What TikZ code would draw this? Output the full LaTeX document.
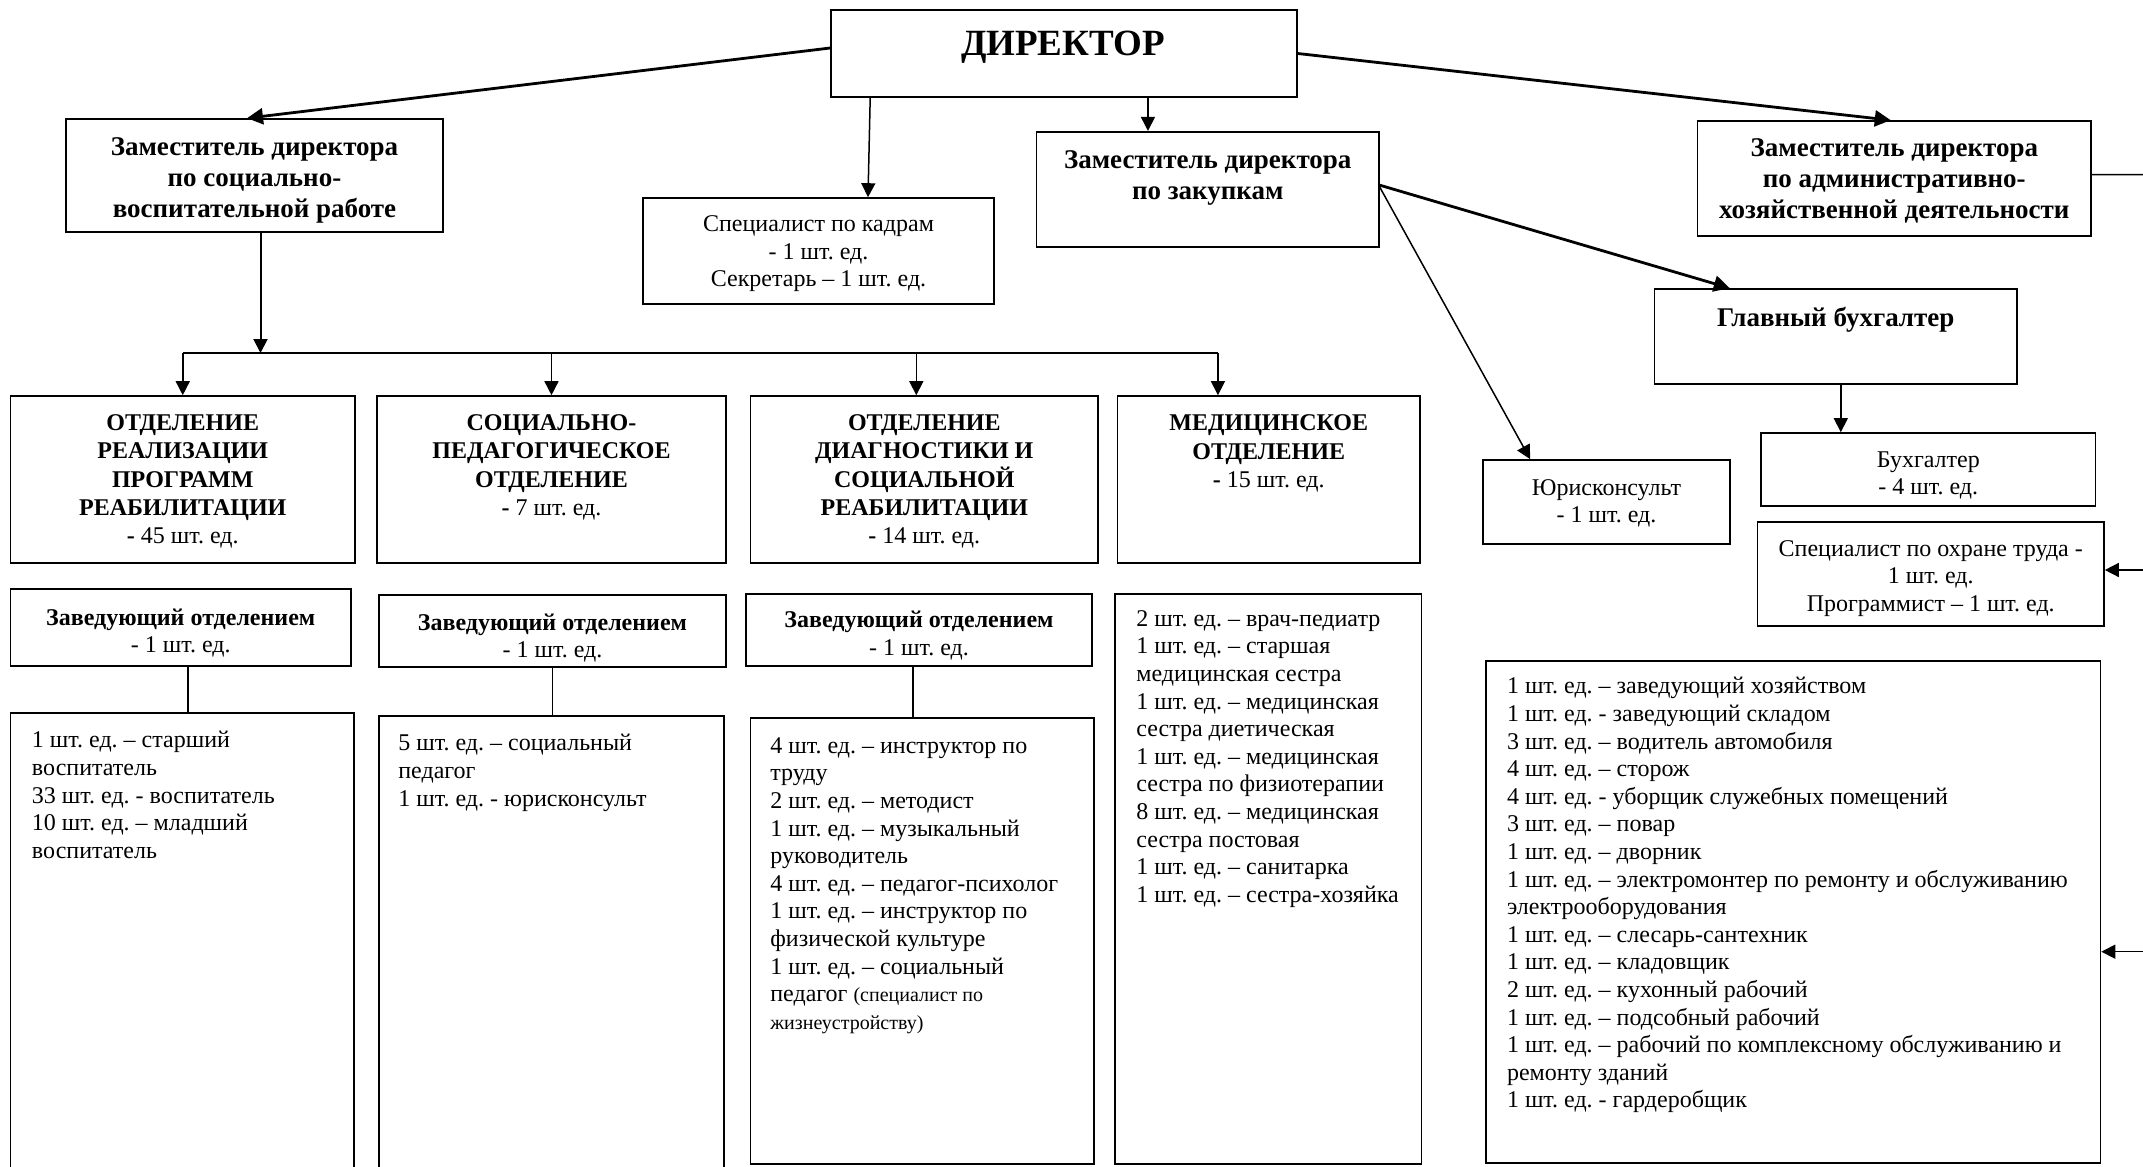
\documentclass[tikz,border=0pt]{standalone}
\usepackage{fontspec}
\setmainfont{Liberation Serif}
\usetikzlibrary{arrows.meta,calc}
\frenchspacing
\begin{document}
\begin{tikzpicture}[x=0.5pt,y=-0.5pt,
  box/.style={draw, line width=0.8pt, inner sep=0pt},
  txt/.style={inner sep=0pt, align=center, font=\fontsize{12}{13.8}\selectfont},
  htxt/.style={inner sep=0pt, align=center, font=\fontsize{13.5}{15.5}\selectfont\bfseries},
  dtxt/.style={inner sep=0pt, align=center, anchor=north, font=\fontsize{12}{14.2}\selectfont},
  ltxt/.style={inner sep=0pt, align=left, anchor=north west, font=\fontsize{12}{13.8}\selectfont},
  arr/.style={-{Triangle[length=7pt,width=7pt]}, line width=0.75pt},
  tarr/.style={-{Triangle[length=8pt,width=8pt]}, line width=1.4pt},
  conn/.style={line width=0.75pt}
]
\useasboundingbox (0,0) rectangle (2143,1167);

% top level
\node[box, minimum width=233pt, minimum height=43.5pt] (dir) at (1064,53.5) {};
\node[inner sep=0pt, anchor=base, font=\fontsize{18.5}{20}\selectfont\bfseries] (tdir) at (1063,55.5) {ДИРЕКТОР};

\node[box, minimum width=188.5pt, minimum height=56.5pt] (zsoc) at (254.5,175.5) {};
\node[htxt] (tzsoc) at ([yshift=-2.6pt]zsoc.center) {Заместитель директора\\по социально-\\воспитательной работе};

\node[box, minimum width=175.5pt, minimum height=53pt] (kadr) at (818.5,251) {};
\node[txt] (tkadr) at ([yshift=-1.5pt]kadr.center) {Специалист по кадрам\\- 1 шт. ед.\\Секретарь – 1 шт. ед.};

\node[box, minimum width=171.25pt, minimum height=57.5pt] (zakup) at (1207.75,189.2) {};
\node[htxt, anchor=north] (tzakup) at (1207.75,150) {Заместитель директора\\по закупкам};

\node[box, minimum width=196.7pt, minimum height=57.35pt] (ahd) at (1894.3,178.35) {};
\node[htxt] (tahd) at ([yshift=-1.4pt]ahd.center) {Заместитель директора\\по административно-\\хозяйственной деятельности};

\node[box, minimum width=181.2pt, minimum height=47.5pt] (glbuh) at (1835.8,336.5) {};
\node[inner sep=0pt, anchor=base, font=\fontsize{13.5}{15.5}\selectfont\bfseries] (tglbuh) at (1835.8,326) {Главный бухгалтер};

\node[box, minimum width=123.5pt, minimum height=42pt] (jurist) at (1606.5,502) {};
\node[txt] (tjurist) at ([yshift=-0.7pt]jurist.center) {Юрисконсульт\\- 1 шт. ед.};
\node[box, minimum width=167.3pt, minimum height=36.5pt] (buh) at (1928.3,469.5) {};
\node[txt] (tbuh) at ([yshift=-2.9pt]buh.center) {Бухгалтер\\- 4 шт. ед.};
\node[box, minimum width=173.25pt, minimum height=52pt] (ohrana) at (1930.75,574) {};
\node[txt] (tohrana) at ([yshift=-2.3pt]ohrana.center) {Специалист по охране труда -\\1 шт. ед.\\Программист – 1 шт. ед.};

\node[box, minimum width=307.4pt, minimum height=251pt] (bigr) at (1793.1,912) {};
\node[ltxt] (tbigr) at (1506.6,677) {1 шт. ед. – заведующий хозяйством\\
1 шт. ед. - заведующий складом\\
3 шт. ед. – водитель автомобиля\\
4 шт. ед. – сторож\\
4 шт. ед. - уборщик служебных помещений\\
3 шт. ед. – повар\\
1 шт. ед. – дворник\\
1 шт. ед. – электромонтер по ремонту и обслуживанию\\
электрооборудования\\
1 шт. ед. – слесарь-сантехник\\
1 шт. ед. – кладовщик\\
2 шт. ед. – кухонный рабочий\\
1 шт. ед. – подсобный рабочий\\
1 шт. ед. – рабочий по комплексному обслуживанию и\\
ремонту зданий\\
1 шт. ед. - гардеробщик};

% departments
\node[box, minimum width=172.25pt, minimum height=83.5pt] (dept1) at (182.75,479.5) {};
\node[dtxt] (tdept1) at (182.75,414) {\textbf{ОТДЕЛЕНИЕ}\\\textbf{РЕАЛИЗАЦИИ}\\\textbf{ПРОГРАММ}\\\textbf{РЕАБИЛИТАЦИИ}\\\textbf{-} 45 шт. ед.};
\node[box, minimum width=174.5pt, minimum height=83.5pt] (dept2) at (551.5,479.5) {};
\node[dtxt] (tdept2) at (551.5,414) {\textbf{СОЦИАЛЬНО-}\\\textbf{ПЕДАГОГИЧЕСКОЕ}\\\textbf{ОТДЕЛЕНИЕ}\\\textbf{-} 7 шт. ед.};
\node[box, minimum width=173.7pt, minimum height=83.5pt] (dept3) at (924.3,479.5) {};
\node[dtxt] (tdept3) at (924.3,414) {\textbf{ОТДЕЛЕНИЕ}\\\textbf{ДИАГНОСТИКИ И}\\\textbf{СОЦИАЛЬНОЙ}\\\textbf{РЕАБИЛИТАЦИИ}\\\textbf{-} 14 шт. ед.};
\node[box, minimum width=151.25pt, minimum height=83.5pt] (dept4) at (1268.75,479.5) {};
\node[dtxt] (tdept4) at (1268.75,414.5) {\textbf{МЕДИЦИНСКОЕ}\\\textbf{ОТДЕЛЕНИЕ}\\\textbf{-} 15 шт. ед.};

% heads of departments
\node[box, minimum width=170.25pt, minimum height=38.5pt] (zav1) at (180.75,627.5) {};
\node[txt] (tzav1) at ([yshift=-2.8pt]zav1.center) {\textbf{Заведующий отделением}\\- 1 шт. ед.};
\node[box, minimum width=173.5pt, minimum height=36pt] (zav2) at (552.5,631) {};
\node[txt] (tzav2) at ([yshift=-3.5pt]zav2.center) {\textbf{Заведующий отделением}\\- 1 шт. ед.};
\node[box, minimum width=173pt, minimum height=36pt] (zav3) at (919,630) {};
\node[txt] (tzav3) at ([yshift=-2.75pt]zav3.center) {\textbf{Заведующий отделением}\\- 1 шт. ед.};

% staff lists
\node[box, minimum width=171.75pt, minimum height=231pt] (list1) at (182.25,944) {};
\node[ltxt] (tlist1) at (31.6,731) {1 шт. ед. – старший\\воспитатель\\33 шт. ед. - воспитатель\\10 шт. ед. – младший\\воспитатель};
\node[box, minimum width=172.5pt, minimum height=229.5pt] (list2) at (551.5,945.5) {};
\node[ltxt] (tlist2) at (398,734) {5 шт. ед. – социальный\\педагог\\1 шт. ед. - юрисконсульт};
\node[box, minimum width=171.7pt, minimum height=223pt] (list3) at (922.3,941) {};
\node[ltxt] (tlist3) at (770,737) {4 шт. ед. – инструктор по\\труду\\2 шт. ед. – методист\\1 шт. ед. – музыкальный\\руководитель\\4 шт. ед. – педагог-психолог\\1 шт. ед. – инструктор по\\физической культуре\\1 шт. ед. – социальный\\педагог {\fontsize{10}{12}\selectfont (специалист по}\\{\fontsize{10}{12}\selectfont жизнеустройству)}};
\node[box, minimum width=153.25pt, minimum height=285pt] (list4) at (1268.25,879) {};
\node[ltxt] (tlist4) at (1136,610) {2 шт. ед. – врач-педиатр\\1 шт. ед. – старшая\\медицинская сестра\\1 шт. ед. – медицинская\\сестра диетическая\\1 шт. ед. – медицинская\\сестра по физиотерапии\\8 шт. ед. – медицинская\\сестра постовая\\1 шт. ед. – санитарка\\1 шт. ед. – сестра-хозяйка};

% connectors
\draw[tarr] ([yshift=2.75pt]dir.west) -- ([xshift=-3.75pt]zsoc.north);
\draw[arr] ([xshift=20pt]dir.south west) -- ([xshift=24.75pt]kadr.north);
\draw[arr] ([xshift=-29.9pt]zakup.north |- dir.south) -- ([xshift=-29.9pt]zakup.north);
\draw[tarr] (dir.east) -- ([xshift=-1.75pt]ahd.north);

\coordinate (bus) at (0,353);
\draw[arr, line width=1pt] ([xshift=3pt]zsoc.south) -- ([xshift=3pt]zsoc.south |- bus);
\draw[line width=1.1pt] (dept1.north |- bus) -- ([xshift=-25.4pt]dept4.north |- bus);
\draw[arr] (dept1.north |- bus) -- (dept1.north);
\draw[arr] (dept2.north |- bus) -- (dept2.north);
\draw[arr] ([xshift=-4pt]dept3.north |- bus) -- ([xshift=-4pt]dept3.north);
\draw[arr] ([xshift=-25.4pt]dept4.north |- bus) -- ([xshift=-25.4pt]dept4.north);

\draw[conn] ([xshift=3.6pt]zav1.south) -- ([xshift=3.6pt]zav1.south |- list1.north);
\draw[conn] (zav2.south) -- (zav2.south |- list2.north);
\draw[conn] ([xshift=-3pt]zav3.south) -- ([xshift=-3pt]zav3.south |- list3.north);

\draw[tarr] ([yshift=2pt]zakup.east) -- ([xshift=38pt]glbuh.north west);
\draw[arr] ([yshift=1pt]zakup.east) -- ([xshift=24pt]jurist.north west);
\draw[arr] ([xshift=2.5pt]glbuh.south) -- ([xshift=2.5pt]glbuh.south |- buh.north);

\coordinate (r1) at (2150,174.6);
\coordinate (r2) at (2150,570);
\coordinate (r3) at (2150,951.7);
\draw[conn] ([yshift=1.9pt]ahd.east) -- (r1);
\draw[arr] (r2) -- (r2 -| ohrana.east);
\draw[arr] (r3) -- (r3 -| bigr.east);
\end{tikzpicture}
\end{document}
